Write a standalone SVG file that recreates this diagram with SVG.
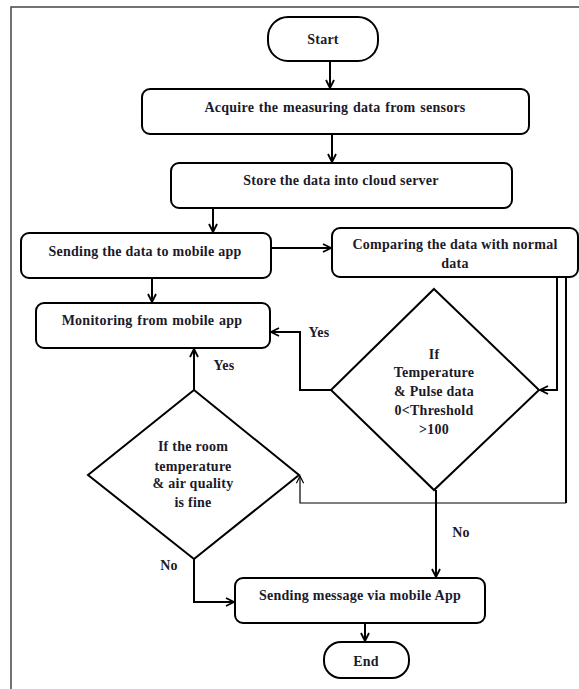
<svg xmlns="http://www.w3.org/2000/svg" width="579" height="689" viewBox="0 0 579 689">
<style>
.box{fill:#fff;stroke:#000;stroke-width:2}
.t{font-family:"Liberation Serif","Times New Roman",serif;font-weight:bold;font-size:14px;letter-spacing:0.25px;fill:#1a1a2a;text-anchor:middle}
.c{fill:none;stroke:#000;stroke-width:2}
.thin{fill:none;stroke:#000;stroke-width:1.2}
.frame{fill:none;stroke:#444;stroke-width:1.5}
</style>
<defs>
<marker id="ah" viewBox="0 0 10 10" refX="9" refY="5" markerWidth="10" markerHeight="10" markerUnits="userSpaceOnUse" orient="auto">
<path d="M1,1 L9,5 L1,9" fill="none" stroke="#000" stroke-width="1.8"/>
</marker>
<marker id="ahs" viewBox="0 0 10 10" refX="9" refY="5" markerWidth="9" markerHeight="9" markerUnits="userSpaceOnUse" orient="auto">
<path d="M1,1 L9,5 L1,9" fill="none" stroke="#000" stroke-width="1.3"/>
</marker>
</defs>
<rect width="579" height="689" fill="#fff"/>
<path class="frame" d="M11,689 V7 H579"/>

<g id="connectors">
<path class="c" d="M330,61 V88" marker-end="url(#ah)"/>
<path class="c" d="M332,134 V162" marker-end="url(#ah)"/>
<path class="c" d="M213,208 V232" marker-end="url(#ah)"/>
<path class="c" d="M271,248 H331" marker-end="url(#ah)"/>
<path class="c" d="M152,278 V302" marker-end="url(#ah)"/>
<path class="c" d="M557,277 V390 H540" marker-end="url(#ah)"/>
<path class="c" d="M566,277 V503"/>
<path class="thin" d="M566,503 H300 V476" marker-end="url(#ahs)"/>
<path class="c" d="M331,390 H300 V332 H271" marker-end="url(#ah)"/>
<path class="c" d="M194,390 V349" marker-end="url(#ah)"/>
<path class="c" d="M436,490 V577" marker-end="url(#ah)"/>
<path class="c" d="M194,559 V602 H234" marker-end="url(#ah)"/>
<path class="c" d="M365,623 V641" marker-end="url(#ah)"/>
<text class="t" x="319" y="337">Yes</text>
<text class="t" x="224" y="370">Yes</text>
<text class="t" x="461" y="537">No</text>
<text class="t" x="169" y="570">No</text>
</g>

<g id="start">
<rect class="box" x="268" y="17" width="110" height="44" rx="20"/>
<text class="t" x="323" y="44">Start</text>
</g>
<g id="acquire">
<rect class="box" x="142" y="89" width="387" height="45" rx="8"/>
<text class="t" x="335" y="112" word-spacing="1">Acquire the measuring data from sensors</text>
</g>
<g id="store">
<rect class="box" x="171" y="163" width="341" height="45" rx="8"/>
<text class="t" x="341" y="185">Store the data into cloud server</text>
</g>
<g id="sending">
<rect class="box" x="21" y="233" width="250" height="45" rx="8"/>
<text class="t" x="145" y="256">Sending the data to mobile app</text>
</g>
<g id="comparing">
<rect class="box" x="332" y="228" width="246" height="49" rx="8"/>
<text class="t" x="455" y="249">Comparing the data with normal</text>
<text class="t" x="455" y="268">data</text>
</g>
<g id="monitoring">
<rect class="box" x="36" y="303" width="234" height="45" rx="8"/>
<text class="t" x="152" y="325" word-spacing="1">Monitoring from mobile app</text>
</g>
<g id="decision1">
<polygon class="box" points="434,289 539,390 434,490 331,390"/>
<text class="t" x="434" y="359">If</text>
<text class="t" x="434" y="377">Temperature</text>
<text class="t" x="434" y="396">&amp; Pulse data</text>
<text class="t" x="434" y="415">0&lt;Threshold</text>
<text class="t" x="434" y="434">&gt;100</text>
</g>
<g id="decision2">
<polygon class="box" points="194,390 299,475 194,559 88,475"/>
<text class="t" x="193" y="451">If the room</text>
<text class="t" x="193" y="471">temperature</text>
<text class="t" x="193" y="488">&amp; air quality</text>
<text class="t" x="193" y="507">is fine</text>
</g>
<g id="message">
<rect class="box" x="235" y="578" width="250" height="45" rx="8"/>
<text class="t" x="360" y="600">Sending message via mobile App</text>
</g>
<g id="end">
<rect class="box" x="324" y="642" width="85" height="36" rx="17"/>
<text class="t" x="366" y="666">End</text>
</g>
</svg>
